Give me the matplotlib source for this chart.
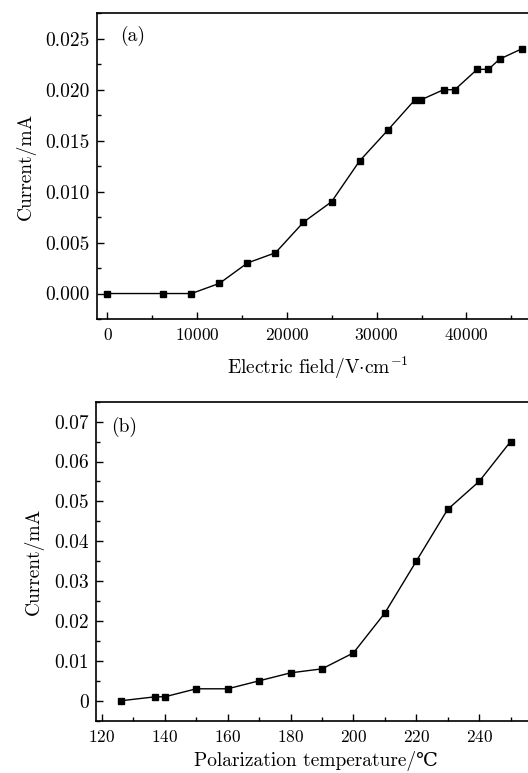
import numpy as np
import matplotlib
matplotlib.use("Agg")
import matplotlib.pyplot as plt
from matplotlib.ticker import MultipleLocator, FormatStrFormatter, FuncFormatter

plt.rcParams['font.family'] = ['cmr10', 'DejaVu Serif']
plt.rcParams['mathtext.fontset'] = 'cm'
plt.rcParams['axes.formatter.use_mathtext'] = True
plt.rcParams['axes.unicode_minus'] = False

# (a) current vs electric field
field = [0, 6240, 9360, 12480, 15600, 18720, 21840, 24960, 28080, 31200,
         34240, 34910, 37440, 38700, 41190, 42450, 43680, 46130]
current_a = [0.000, 0.000, 0.000, 0.001, 0.003, 0.004, 0.007, 0.009, 0.013, 0.016,
             0.019, 0.019, 0.020, 0.020, 0.022, 0.022, 0.023, 0.024]

# (b) current vs polarization temperature
temp = [126, 137, 140, 150, 160, 170, 180, 190, 200, 210, 220, 230, 240, 250]
current_b = [0.000, 0.001, 0.001, 0.003, 0.003, 0.005, 0.007, 0.008, 0.012,
             0.022, 0.035, 0.048, 0.055, 0.065]

W, H = 528, 773
fig = plt.figure(figsize=(W / 100, H / 100), dpi=100)

# axes run past the right edge, like the cropped original
ax1 = fig.add_axes([96.7 / W, 1 - 319 / H, 441.6 / W, 305.7 / H])
ax2 = fig.add_axes([95.7 / W, 1 - 720.7 / H, 440.0 / W, 319.0 / H])

fs_x = 12.5
fs_y = 14
fs_lab = 14
for ax in (ax1, ax2):
    for s in ax.spines.values():
        s.set_linewidth(1.2)
    ax.tick_params(which='both', direction='in', width=1)
    ax.tick_params(which='major', length=5)
    ax.tick_params(which='minor', length=3)
    ax.tick_params(axis='x', pad=6, labelsize=fs_x)
    ax.tick_params(axis='y', pad=5, labelsize=fs_y)

ax1.plot(field, current_a, '-s', color='black', lw=1, ms=5)
ax1.set_xlim(-1200, 48000)
ax1.set_ylim(-0.0025, 0.0275)
ax1.xaxis.set_major_locator(MultipleLocator(10000))
ax1.xaxis.set_minor_locator(MultipleLocator(5000))
ax1.yaxis.set_major_locator(MultipleLocator(0.005))
ax1.yaxis.set_minor_locator(MultipleLocator(0.0025))
ax1.yaxis.set_major_formatter(FormatStrFormatter('%.3f'))
ax1.set_xlabel(r"Electric field/V$\cdot$cm$^{-1}$", fontsize=fs_lab, labelpad=8)
ax1.set_ylabel("Current/mA", fontsize=fs_lab, labelpad=7)
ax1.text(0.053, 0.926, "(a)", transform=ax1.transAxes, fontsize=fs_lab, va='center')

ax2.plot(temp, current_b, '-s', color='black', lw=1, ms=5)
ax2.set_xlim(118, 258)
ax2.set_ylim(-0.005, 0.075)
ax2.xaxis.set_major_locator(MultipleLocator(20))
ax2.xaxis.set_minor_locator(MultipleLocator(10))
ax2.yaxis.set_major_locator(MultipleLocator(0.01))
ax2.yaxis.set_minor_locator(MultipleLocator(0.005))
ax2.yaxis.set_major_formatter(FuncFormatter(
    lambda v, p: "0" if abs(v) < 1e-9 else "%.2f" % v))
ax2.set_xlabel("Polarization temperature/℃", fontsize=fs_lab, labelpad=4)
ax2.set_ylabel("Current/mA", fontsize=fs_lab, labelpad=7)
ax2.text(0.035, 0.92, "(b)", transform=ax2.transAxes, fontsize=fs_lab, va='center')

fig.savefig("out.png", dpi=100)
